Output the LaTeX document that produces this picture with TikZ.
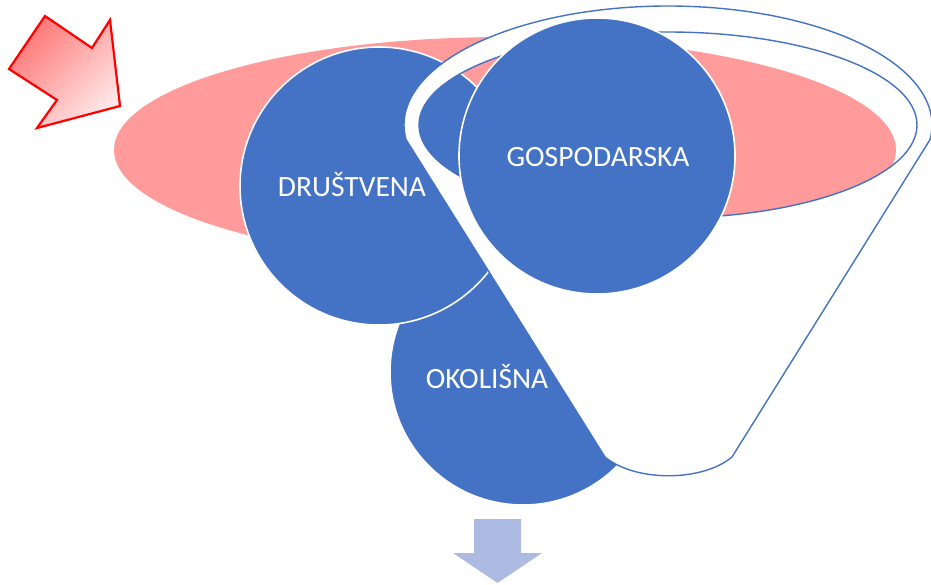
\documentclass[tikz,border=0pt]{standalone}
\usepackage{fontspec}
\setmainfont{Carlito}
\definecolor{smblue}{RGB}{68,114,196}
\definecolor{pinkfill}{RGB}{255,155,155}
\definecolor{downblue}{RGB}{173,186,225}
\definecolor{arrowdark}{RGB}{255,118,118}
\definecolor{arrowlight}{RGB}{255,232,232}
\begin{document}
\begin{tikzpicture}[x=1pt,y=-1pt,
  blob/.style={circle, fill=smblue, draw=white, line width=1.6pt, inner sep=0pt},
  lbl/.style={text=white, font=\fontsize{29.5}{32}\selectfont, anchor=base, inner sep=0pt},
  funnelshape/.style={fill=white, draw=smblue, line width=1.4pt, even odd rule, line join=round}]
\useasboundingbox (0,0) rectangle (931,584);
% pink ellipse behind everything
\fill[pinkfill] (505,150) ellipse [x radius=391, y radius=113];
% circles behind the funnel
\node[blob, minimum size=266pt] (oko) at (523,372) {};
\node[blob, minimum size=278pt] (dru) at (379,186) {};
\node[lbl] (okot) at (487,388) {OKOLIŠNA};
\node[lbl] (drut) at (352,196) {DRUŠTVENA};
% funnel with transparent opening
\path[funnelshape] (605,457) -- (406,139.5)
  arc[start angle=173, end angle=367, x radius=264, y radius=119]
  -- (732,457) .. controls (702,482) and (635,482) .. (605,457) -- cycle
  (668,125) ellipse [x radius=249, y radius=93];
% circle in front of the funnel
\node[blob, minimum size=276pt] (gos) at (597,156) {};
\node[lbl] (gost) at (598,166) {GOSPODARSKA};
% down arrow
\fill[downblue] (474,519) -- (521,519) -- (521,553) -- (542,553) -- (497.5,583)
  -- (453,553) -- (474,553) -- cycle;
% red arrow
\draw[red, line width=2.2pt, line join=miter, top color=arrowdark, bottom color=arrowlight, shading angle=45]
  (45,16) -- (92,48) -- (110,20) -- (120,106) -- (37,128) -- (57,100) -- (9,69) -- cycle;
\end{tikzpicture}
\end{document}
